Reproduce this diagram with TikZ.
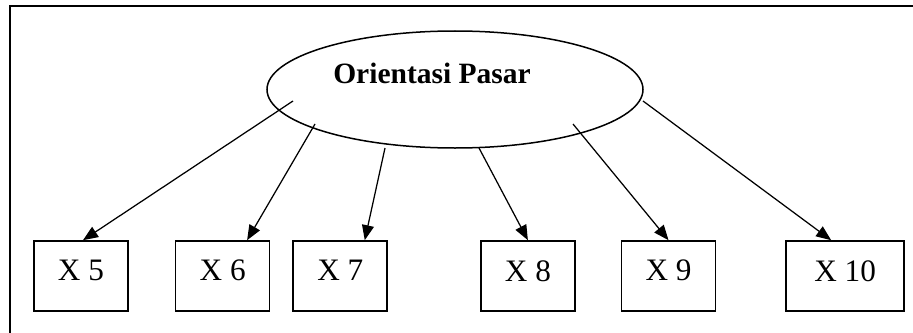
\documentclass[tikz,border=0pt]{standalone}
\usepackage{fontspec}
\setmainfont{Liberation Serif}
\usepackage{tikz}
\usetikzlibrary{positioning,arrows.meta,shapes.geometric}
\tikzset{
    orientframe/.style={draw, line width=0.8pt},
    orientlatent/.style={draw, ellipse, line width=0.6pt, inner sep=0pt, minimum width=150.4pt, minimum height=46.8pt},
    orienttitle/.style={font=\fontsize{11.8}{14}\selectfont\bfseries, inner sep=0pt},
    orientind/.style={draw, rectangle, line width=0.65pt, align=center, minimum width=37.6pt, minimum height=28pt, text depth=4.3pt, font=\fontsize{12.5}{14}\selectfont},
    orientarrow/.style={draw, line width=0.5pt, -{Triangle[length=6pt, width=4.8pt]}}
}

\begin{document}
\begin{tikzpicture}[x=0.4pt, y=-0.4pt]
    \useasboundingbox (0,0) rectangle (913,333);
    \clip (0,0) rectangle (913,333);
    \draw[orientframe] (9.5,6) rectangle (940,360);

    \node[orientlatent] (pasar) at (455,89.5) {};
    \node[orienttitle] (pasartitle) at (432,73) {Orientasi Pasar};

    \node[orientind] (x5) at (81,276) {X 5};
    \node[orientind, right=18.4pt of x5] (x6) {X 6};
    \node[orientind, right=8.8pt of x6] (x7) {X 7};
    \node[orientind, right=36.8pt of x7] (x8) {X 8};
    \node[orientind, right=18pt of x8] (x9) {X 9};
    \node[orientind, right=27.6pt of x9, minimum width=47.2pt] (x10) {X 10};

    % titik pangkal panah di elips
    \coordinate (s5) at (293,101);
    \coordinate (s6) at (315,124);
    \coordinate (s7) at (385,148);
    \coordinate (s8) at (479,148);
    \coordinate (s9) at (573,124);
    \coordinate (s10) at (643,101);

    \draw[orientarrow] (s5) -- ([xshift=0.8pt]x5.north);
    \draw[orientarrow] (s6) -- ([xshift=9.8pt]x6.north);
    \draw[orientarrow] (s7) -- ([xshift=9.8pt]x7.north);
    \draw[orientarrow] (s8) -- (x8.north);
    \draw[orientarrow] (s9) -- (x9.north);
    \draw[orientarrow] (s10) -- ([xshift=-5.6pt]x10.north);
\end{tikzpicture}
\end{document}
